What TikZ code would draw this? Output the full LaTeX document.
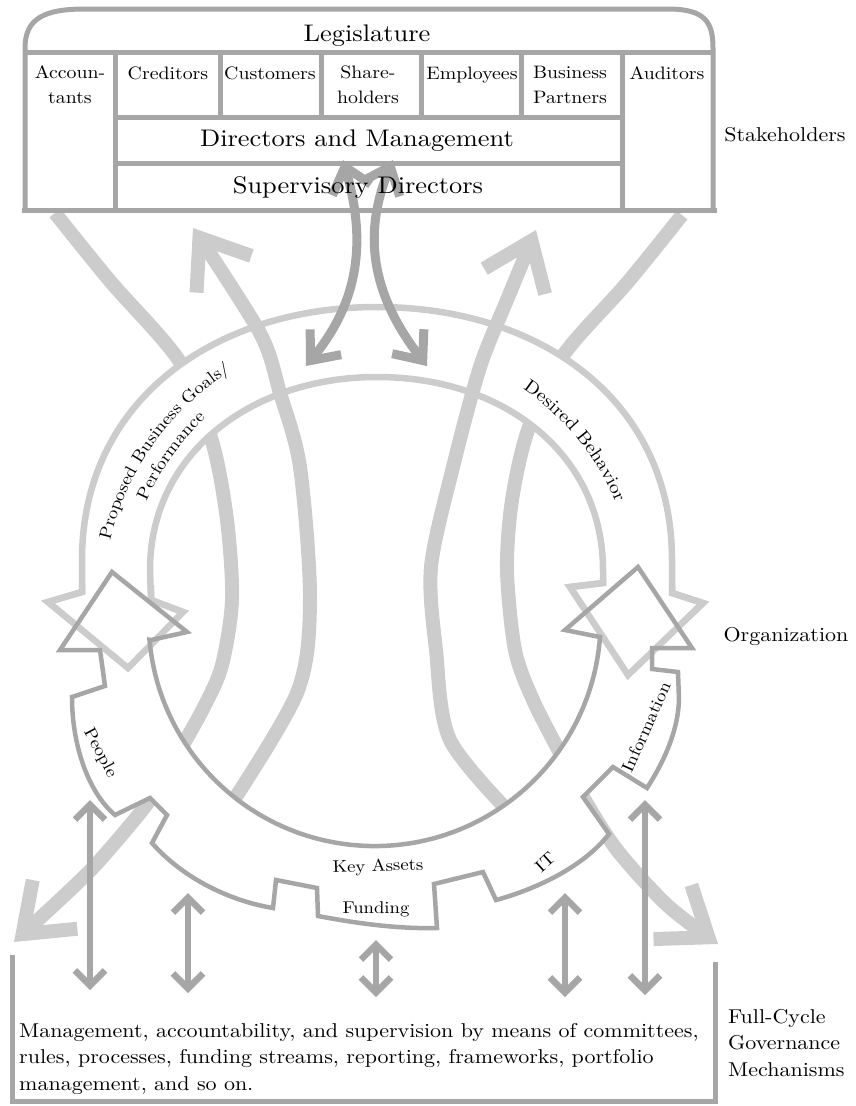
\documentclass[tikz,border=0pt]{standalone}
\usepackage{fontspec}
\setmainfont{lmroman10-regular.otf}[FakeStretch=1.1]
\usetikzlibrary{arrows.meta,decorations.text}
\definecolor{lite}{gray}{0.80}
\definecolor{dark}{gray}{0.65}
\newcommand\fsz[2]{\fontsize{#1}{#2}\selectfont}
\tikzset{
  every node/.style={inner sep=0pt, text=black},
  band/.style={draw=lite, line width=14pt},
  bigtip/.style={-{Straight Barb[length=44pt,width=66pt,sharp]}},
  ring/.style={draw=lite, line width=6.5pt, line join=miter},
  gearline/.style={draw=dark, line width=4.5pt, line join=miter},
  frame/.style={draw=dark, line width=5pt},
  sarrow/.style={draw=dark, line width=9pt,
    {Straight Barb[length=24pt,width=40pt,sharp]}-{Straight Barb[length=24pt,width=40pt,sharp]}},
  varrow/.style={draw=dark, line width=6.5pt,
    {Straight Barb[length=15pt,width=30pt,sharp]}-{Straight Barb[length=15pt,width=30pt,sharp]}},
  cell/.style={font=\fsz{18}{25}, align=center},
  big/.style={font=\fsz{24}{28}},
  side/.style={font=\fsz{20}{26.5}, align=left},
  tag/.style={font=\fsz{17}{20}},
}
\begin{document}
\begin{tikzpicture}[x=1pt,y=-1pt]
\useasboundingbox (0,0) rectangle (855,1106);

% long bands passing behind the organisation rings
\draw[band,bigtip] plot[smooth] coordinates {(55,213) (110,281) (180,362) (212,441) (227,520) (232,600) (222,665) (205,705) (180,750) (150,800) (100,860) (67,893) (14,942)};
\draw[band,bigtip] plot[smooth] coordinates {(682,215) (627,283) (562,357) (528,430) (512,500) (507,570) (515,650) (533,700) (560,753) (583,797) (617,850) (667,905) (718,944)};

% upper arch (goals and behaviour)
\draw[ring, fill=white] (82,592) -- (82,560) .. controls (82,400) and (215,307) .. (377,307)
  .. controls (540,307) and (672,400) .. (672,560) -- (672,593) -- (703,603) -- (628,675)
  -- (570,587) -- (603,583) -- (603,570) .. controls (603,455) and (505,377) .. (377,377)
  .. controls (250,377) and (150,455) .. (150,570) -- (151,600) -- (183,612) -- (128,668)
  -- (48,602) -- cycle;

% bands rising to the stakeholders
\draw[band,bigtip] plot[smooth] coordinates {(226,812) (297,693) (310,600) (300,467) (280,393) (260,333) (193,228)};
\draw[band,bigtip] plot[smooth] coordinates {(515,818) (450,740) (436,650) (431,567) (453,467) (480,367) (507,300) (536,230)};

% lower gear ring (key assets)
\path[save path=\gearp]
  (151,640) -- (187,632) -- (112,572) -- (60,650) -- (100,650) -- (105,686) -- (72,697)
  .. controls (72,745) and (88,792) .. (115,815)
  -- (150,798) -- (167,815) -- (152,843)
  .. controls (180,875) and (225,900) .. (273,908)
  -- (276,880) -- (317,888) -- (318,916)
  .. controls (360,924) and (400,929) .. (437,928)
  -- (434,884) -- (483,872) -- (496,900)
  .. controls (540,888) and (585,865) .. (609,834)
  -- (583,797) -- (613,767) -- (647,788)
  .. controls (665,760) and (678,730) .. (679,700)
  -- (678,672) -- (652,669) -- (652,648) -- (692,648) -- (638,567) -- (565,630) -- (600,637)
  arc[start angle=4.3, end angle=175, radius=226] -- cycle;
\fill[white, use path=\gearp];
\draw[ring] (151,585) -- (151,600) -- (183,612) -- (128,668) -- (48,602) -- (82,592) -- (82,585);
\draw[ring] (603,578) -- (603,583) -- (570,587) -- (628,675) -- (703,603) -- (672,593) -- (672,585);
\draw[gearline, use path=\gearp];

% stakeholder table
\draw[frame] (25,210) -- (25,48) .. controls (25,18) and (45,9) .. (85,9) -- (668,9)
  .. controls (705,9) and (713,22) .. (713,48) -- (713,210);
\draw[frame] (22,210) -- (717,210);
\draw[frame] (25,52) -- (713,52);
\draw[frame] (115,52) -- (115,210);
\draw[frame] (622,52) -- (622,210);
\foreach \cx in {220,321,421,521} \draw[frame] (\cx,52) -- (\cx,117);
\draw[frame] (115,117) -- (622,117);
\draw[frame] (115,163) -- (622,163);

% governance box
\draw[frame] (12,955) -- (12,1101) -- (715,1101) -- (715,962);

% two-way links between board and organisation
\coordinate (sl1) at (343,160); \coordinate (sl2) at (306,366);
\coordinate (sr1) at (393,160); \coordinate (sr2) at (427,366);
\draw[sarrow] (sl1) .. controls (366,240) and (360,300) .. (sl2);
\draw[sarrow] (sr1) .. controls (360,240) and (376,300) .. (sr2);

% two-way links between assets and governance
\coordinate (a1) at (90,800);  \coordinate (b1) at (90,990);
\coordinate (a2) at (188,893); \coordinate (b2) at (188,993);
\coordinate (a3) at (376,940); \coordinate (b3) at (376,997);
\coordinate (a4) at (565,893); \coordinate (b4) at (565,997);
\coordinate (a5) at (645,800); \coordinate (b5) at (645,995);
\foreach \i in {1,...,5} \draw[varrow] (a\i) -- (b\i);

% table texts
\node[big] (legis) at (367,36) {Legislature};
\node[cell] (acct) at (70,85) {Accoun-\\tants};
\node[cell] (cred) at (168,73) {Creditors};
\node[cell] (cust) at (270,73) {Customers};
\node[cell] (share) at (368,85) {Share-\\holders};
\node[cell] (empl) at (472,75) {Employees};
\node[cell] (bizp) at (570,85) {Business\\Partners};
\node[cell] (audit) at (667,73) {Auditors};
\node[big] (dirm) at (357,141) {Directors and Management};
\node[big] (supd) at (358,187) {Supervisory Directors};

% side captions
\node[side] (stake) at (785,135) {Stakeholders};
\node[side] (org) at (786,637) {Organization};
\node[side, anchor=north west] (fcg) at (728,1009) {Full-Cycle\\Governance\\Mechanisms};

% arch texts
\path[decorate, decoration={text along path, text align=center,
  text={|\fsz{17}{17}|Proposed Business Goals/}}]
  ([shift={(180:274)}]377,603) arc[start angle=180, end angle=251, radius=274];
\path[decorate, decoration={text along path, text align=center,
  text={|\fsz{17}{17}|Performance}}]
  ([shift={(180:252)}]377,603) arc[start angle=180, end angle=251, radius=252];
\path[decorate, decoration={text along path, text align=center,
  text={|\fsz{18}{18}|Desired Behavior}}]
  ([shift={(285:259)}]377,603) arc[start angle=285, end angle=356.4, radius=259];

% gear texts
\node[tag, rotate=-62] (people) at (100,753) {People};
\node[tag, rotate=2] (keya) at (378,867) {Key Assets};
\node[tag] (fund) at (376,909) {Funding};
\node[tag, rotate=42] (it) at (545,862) {IT};
\node[tag, rotate=66] (info) at (646,727) {Information};

% governance text
\node[side, anchor=north west] (gov) at (19,1023)
  {Management, accountability, and supervision by means of committees,\\
   rules, processes, funding streams, reporting, frameworks, portfolio\\
   management, and so on.};
\end{tikzpicture}
\end{document}
